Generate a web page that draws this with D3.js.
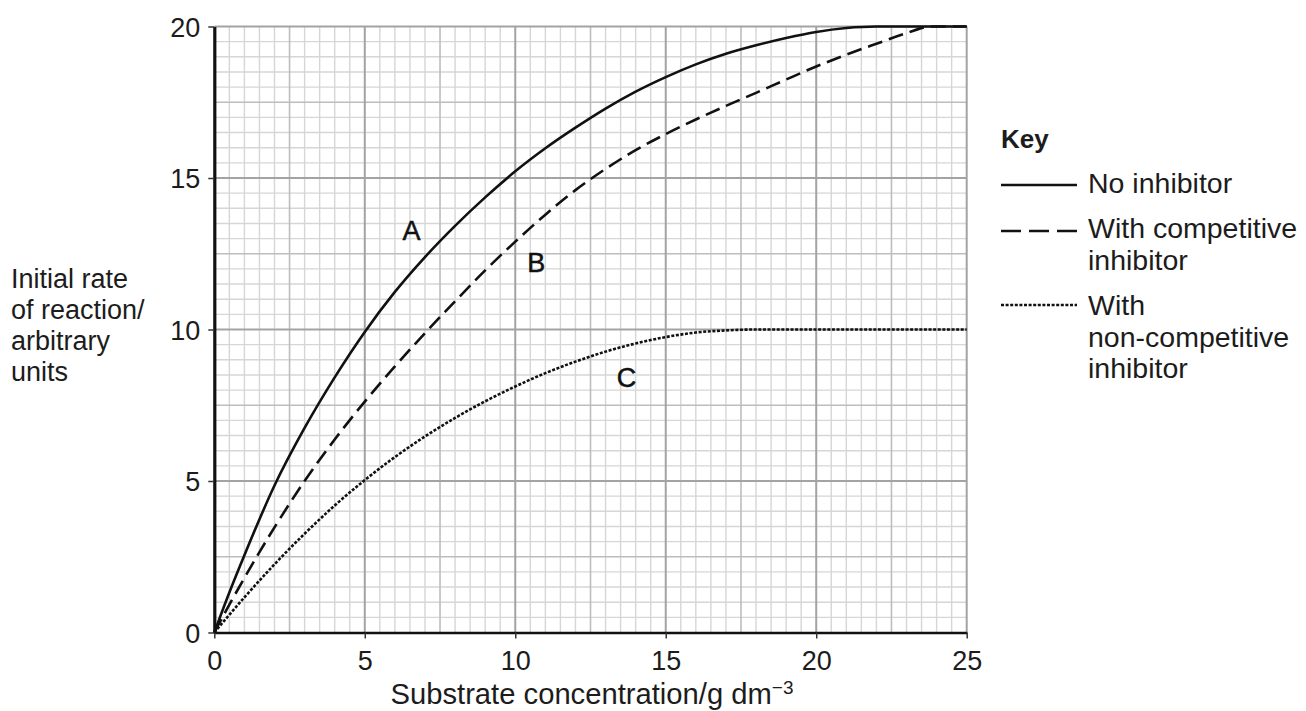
<!DOCTYPE html>
<html>
<head>
<meta charset="utf-8">
<script src="https://cdn.jsdelivr.net/npm/d3@7"></script>
<style>
  html, body { margin: 0; padding: 0; background: #fff; }
  svg { display: block; font-family: "Liberation Sans", Arial, sans-serif; }
</style>
</head>
<body>
<svg id="chart" width="1306" height="711"></svg>
<script>
// ---- data ----
const xTicks = [0, 5, 10, 15, 20, 25];
const yTicks = [0, 5, 10, 15, 20];

const noInhibitorX = [0, 0.5, 1, 2, 3, 4, 5, 6, 7, 8, 9, 10, 11, 12, 13, 14, 15, 16, 17, 18, 19, 20, 21, 22, 25];
const noInhibitorY = [0, 1.32, 2.55, 4.85, 6.75, 8.42, 9.92, 11.24, 12.39, 13.42, 14.36, 15.22, 15.98, 16.66, 17.29, 17.85, 18.33, 18.75, 19.1, 19.38, 19.62, 19.82, 19.95, 20, 20];

const competitiveX = [0, 0.5, 1, 2, 3, 4, 5, 6, 7, 8, 9, 10, 11, 12, 13, 14, 15, 16, 17, 18, 19, 20, 21, 22, 23, 23.8, 25];
const competitiveY = [0, 0.92, 1.8, 3.47, 5.0, 6.37, 7.62, 8.78, 9.88, 10.93, 11.95, 12.9, 13.79, 14.6, 15.3, 15.92, 16.45, 16.93, 17.38, 17.81, 18.25, 18.68, 19.07, 19.43, 19.78, 20, 20];

const nonCompetitiveX = [0, 1, 2, 3, 4, 5, 6, 7, 8, 9, 10, 11, 12, 13, 14, 15, 16, 17, 18, 25];
const nonCompetitiveY = [0, 1.16, 2.25, 3.26, 4.19, 5.03, 5.79, 6.47, 7.08, 7.63, 8.12, 8.56, 8.94, 9.27, 9.54, 9.75, 9.9, 9.97, 10, 10];

const curveLabels = ["A", "B", "C"];
const curveLabelX = [6.55, 10.7, 13.7];
const curveLabelY = [12.95, 11.9, 8.1];

const legendLabels = [["No inhibitor"], ["With competitive", "inhibitor"], ["With", "non-competitive", "inhibitor"]];
const yTitleLines = ["Initial rate", "of reaction/", "arbitrary", "units"];

// ---- layout ----
const svg = d3.select("#chart");
const x = d3.scaleLinear().domain([0, 25]).range([214.3, 966.7]);
const y = d3.scaleLinear().domain([0, 20]).range([632.5, 26.5]);
const textColor = "#1c1c1c";

const gGrid = svg.append("g");
// minor grid every 0.5
const minor = d3.range(0, 25.01, 0.5).filter(v => v % 2.5 !== 0);
const minorY = d3.range(0, 20.01, 0.5).filter(v => v % 2.5 !== 0);
gGrid.selectAll(".vminor").data(minor).join("line")
  .attr("x1", d => x(d)).attr("x2", d => x(d)).attr("y1", y(0)).attr("y2", y(20))
  .attr("stroke", "#d6d6d6").attr("stroke-width", 1.4);
gGrid.selectAll(".hminor").data(minorY).join("line")
  .attr("y1", d => y(d)).attr("y2", d => y(d)).attr("x1", x(0)).attr("x2", x(25))
  .attr("stroke", "#d6d6d6").attr("stroke-width", 1.4);
// medium grid every 2.5
const med = [2.5, 7.5, 12.5, 17.5, 22.5];
const medY = [2.5, 7.5, 12.5, 17.5];
gGrid.selectAll(".vmed").data(med).join("line")
  .attr("x1", d => x(d)).attr("x2", d => x(d)).attr("y1", y(0)).attr("y2", y(20))
  .attr("stroke", "#bdbdbd").attr("stroke-width", 1.6);
gGrid.selectAll(".hmed").data(medY).join("line")
  .attr("y1", d => y(d)).attr("y2", d => y(d)).attr("x1", x(0)).attr("x2", x(25))
  .attr("stroke", "#bdbdbd").attr("stroke-width", 1.6);
// major grid every 5
gGrid.selectAll(".vmaj").data(xTicks.slice(1)).join("line")
  .attr("x1", d => x(d)).attr("x2", d => x(d)).attr("y1", y(0)).attr("y2", y(20))
  .attr("stroke", "#a3a3a3").attr("stroke-width", 2);
gGrid.selectAll(".hmaj").data(yTicks.slice(1)).join("line")
  .attr("y1", d => y(d)).attr("y2", d => y(d)).attr("x1", x(0)).attr("x2", x(25))
  .attr("stroke", "#a3a3a3").attr("stroke-width", 2);

// ---- axes ----
const xAxis = svg.append("g").attr("transform", `translate(0,${y(0)})`)
  .call(d3.axisBottom(x).tickValues(xTicks).tickSize(6).tickPadding(12).tickSizeOuter(0));
const yAxis = svg.append("g").attr("transform", `translate(${x(0)},0)`)
  .call(d3.axisLeft(y).tickValues(yTicks).tickSize(6).tickPadding(8).tickSizeOuter(0));
xAxis.select(".domain").attr("stroke", "#111").attr("stroke-width", 2.6);
yAxis.select(".domain").attr("stroke", "#111").attr("stroke-width", 3.2);
[xAxis, yAxis].forEach(a => {
  a.selectAll(".tick line").attr("stroke", "#333").attr("stroke-width", 1.5);
  a.selectAll(".tick text").attr("fill", textColor)
    .style("font-family", '"Liberation Sans", Arial, sans-serif').style("font-size", "27px");
});
yAxis.selectAll(".tick text").attr("dy", "0.36em");

// ---- curves ----
const line = d3.line().x(d => x(d[0])).y(d => y(d[1])).curve(d3.curveMonotoneX);
const series = [
  { xs: noInhibitorX, ys: noInhibitorY, dash: null, w: 2.6 },
  { xs: competitiveX, ys: competitiveY, dash: "15,7", w: 2.6 },
  { xs: nonCompetitiveX, ys: nonCompetitiveY, dash: "3,1.6", w: 2.6 }
];
svg.append("g").selectAll("path").data(series).join("path")
  .attr("d", s => line(s.xs.map((v, i) => [v, s.ys[i]])))
  .attr("fill", "none").attr("stroke", "#111").attr("stroke-width", s => s.w)
  .attr("stroke-dasharray", s => s.dash);

// curve labels
svg.append("g").selectAll("text").data(curveLabels).join("text")
  .attr("x", (d, i) => x(curveLabelX[i])).attr("y", (d, i) => y(curveLabelY[i]))
  .attr("text-anchor", "middle").attr("fill", "#111")
  .attr("stroke", "#111").attr("stroke-width", 0.5)
  .style("font-size", "27px").text(d => d);

// ---- axis titles ----
const xt = svg.append("text").attr("x", 592).attr("y", 704).attr("text-anchor", "middle")
  .attr("fill", textColor).style("font-size", "29.2px");
xt.append("tspan").text("Substrate concentration/g dm");
xt.append("tspan").attr("dy", -10).style("font-size", "19px").text("\u22123");

svg.append("g").selectAll("text").data(yTitleLines).join("text")
  .attr("x", 11).attr("y", (d, i) => 288 + i * 31)
  .attr("fill", textColor).style("font-size", "27px").text(d => d);

// ---- legend ----
const lg = svg.append("g");
lg.append("text").attr("x", 1001).attr("y", 148).attr("fill", textColor)
  .style("font-size", "26px").style("font-weight", "bold").text("Key");
const legendLineY = [185, 231, 305];
const legendTextY = [193, 238, 315];
const legendDash = [null, "20,8", "3,1.6"];
legendLabels.forEach((lines, i) => {
  lg.append("line").attr("x1", 1001).attr("x2", 1077)
    .attr("y1", legendLineY[i]).attr("y2", legendLineY[i])
    .attr("stroke", "#111").attr("stroke-width", 2.6)
    .attr("stroke-dasharray", legendDash[i]);
  lines.forEach((t, j) => {
    lg.append("text").attr("x", 1088).attr("y", legendTextY[i] + j * 31.5)
      .attr("fill", textColor).style("font-size", "28.5px").text(t);
  });
});
</script>
</body>
</html>
